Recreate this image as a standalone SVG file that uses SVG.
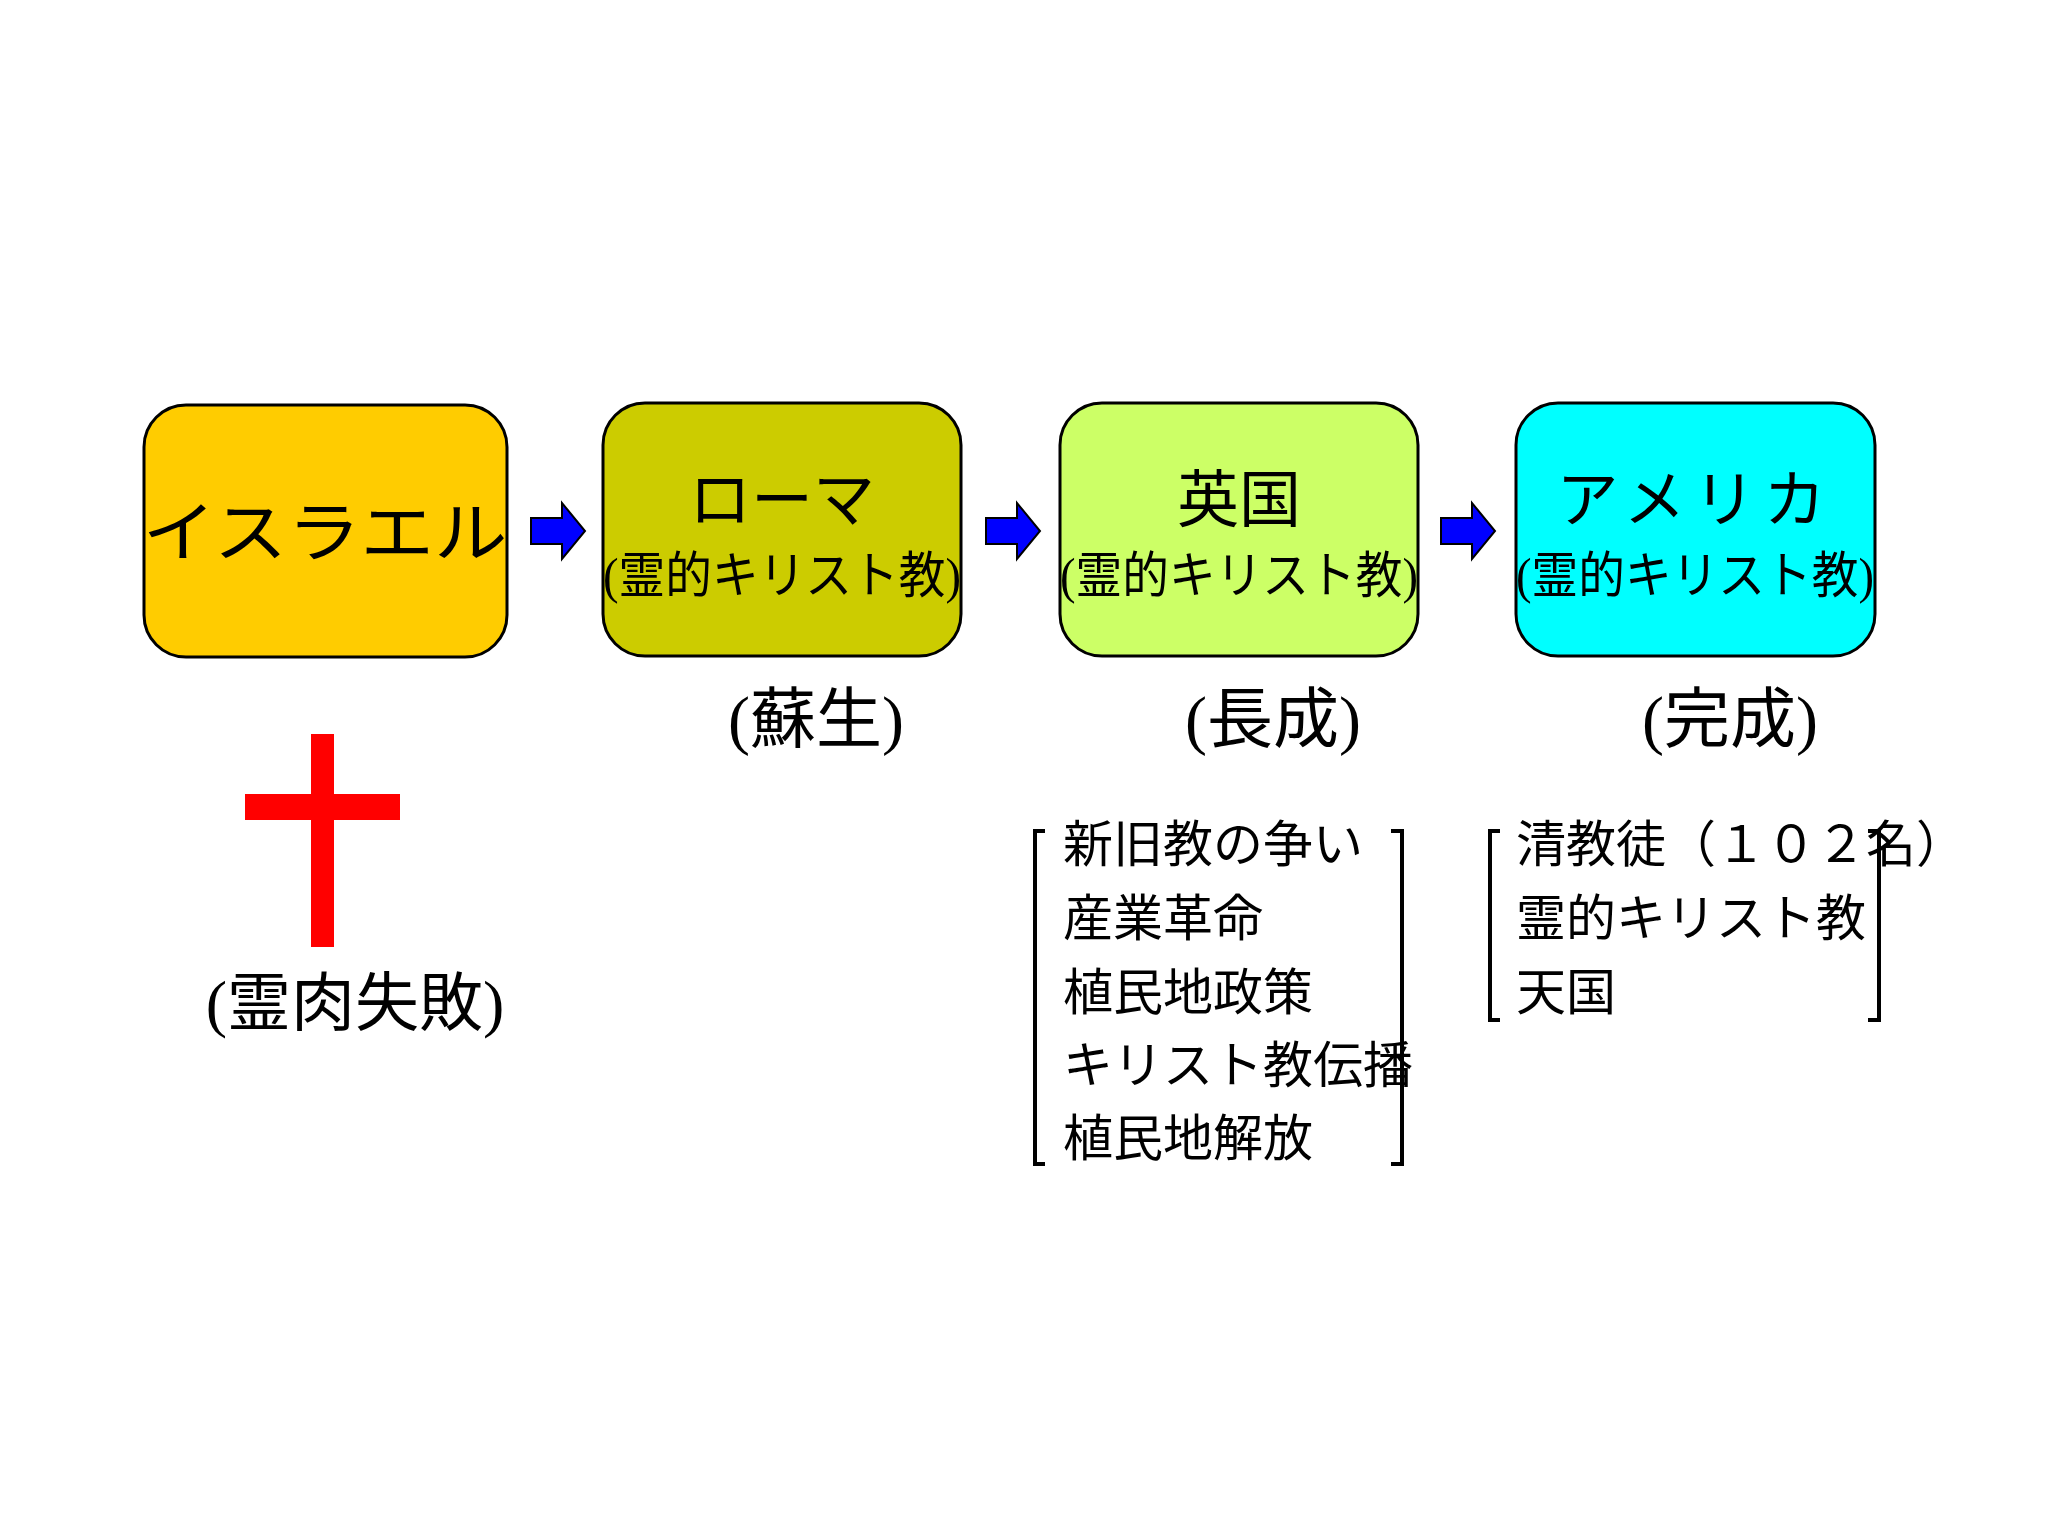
<svg xmlns="http://www.w3.org/2000/svg" width="2048" height="1536" viewBox="0 0 2048 1536">
<style>
.t{font-family:"Liberation Serif","Noto Sans CJK JP",serif;fill:#000}
.box{stroke:#000;stroke-width:3}
.br{fill:none;stroke:#000;stroke-width:4}
</style>
<rect width="2048" height="1536" fill="#fff"/>
<g id="israel"><rect class="box" x="144" y="405" width="363" height="252" rx="42" fill="#ffcc00"/>
<text class="t" x="325" y="556" font-size="66" text-anchor="middle" textLength="365" lengthAdjust="spacingAndGlyphs">イスラエル</text></g>
<g id="rome"><rect class="box" x="603" y="403" width="358" height="253" rx="42" fill="#cccc00"/>
<text class="t" x="782" y="522" font-size="62" text-anchor="middle">ローマ</text>
<text class="t" x="782" y="593" font-size="50" text-anchor="middle" textLength="358" lengthAdjust="spacingAndGlyphs">(霊的キリスト教)</text></g>
<g id="uk"><rect class="box" x="1060" y="403" width="358" height="253" rx="42" fill="#ccff66"/>
<text class="t" x="1239" y="522" font-size="62" text-anchor="middle">英国</text>
<text class="t" x="1239" y="593" font-size="50" text-anchor="middle" textLength="358" lengthAdjust="spacingAndGlyphs">(霊的キリスト教)</text></g>
<g id="america"><rect class="box" x="1516" y="403" width="359" height="253" rx="42" fill="#00ffff"/>
<text class="t" x="1695" y="522" font-size="62" text-anchor="middle" letter-spacing="8">アメリカ</text>
<text class="t" x="1695" y="593" font-size="50" text-anchor="middle" textLength="358" lengthAdjust="spacingAndGlyphs">(霊的キリスト教)</text></g>
<g id="connectors" fill="#0000ff" stroke="#000" stroke-width="2">
<polygon points="531,518 562,518 562,503 585,531 562,559 562,544 531,544"/>
<polygon points="986,518 1017,518 1017,503 1040,531 1017,559 1017,544 986,544"/>
<polygon points="1441,518 1472,518 1472,503 1495,531 1472,559 1472,544 1441,544"/>
</g>
<g id="labels">
<text class="t" x="816" y="742" font-size="66" text-anchor="middle">(蘇生)</text>
<text class="t" x="1273" y="742" font-size="66" text-anchor="middle">(長成)</text>
<text class="t" x="1730" y="742" font-size="66" text-anchor="middle">(完成)</text>
<text class="t" x="355" y="1025" font-size="64" text-anchor="middle">(霊肉失敗)</text>
</g>
<g id="cross" fill="#ff0000"><rect x="311" y="734" width="23" height="213"/><rect x="245" y="794" width="155" height="26"/></g>
<g id="list-uk">
<path class="br" d="M1045,831 H1035 V1164 H1045 M1391,831 H1402 V1164 H1391"/>
<text class="t" font-size="50"><tspan x="1063" y="862">新旧教の争い</tspan><tspan x="1063" y="936">産業革命</tspan><tspan x="1063" y="1010">植民地政策</tspan><tspan x="1063" y="1083">キリスト教伝播</tspan><tspan x="1063" y="1156">植民地解放</tspan></text>
</g>
<g id="list-us">
<path class="br" d="M1500,831 H1490 V1020 H1500 M1868,831 H1879 V1020 H1868"/>
<text class="t" font-size="50"><tspan x="1516" y="862">清教徒（１０２名）</tspan><tspan x="1516" y="936">霊的キリスト教</tspan><tspan x="1516" y="1010">天国</tspan></text>
</g>
</svg>
